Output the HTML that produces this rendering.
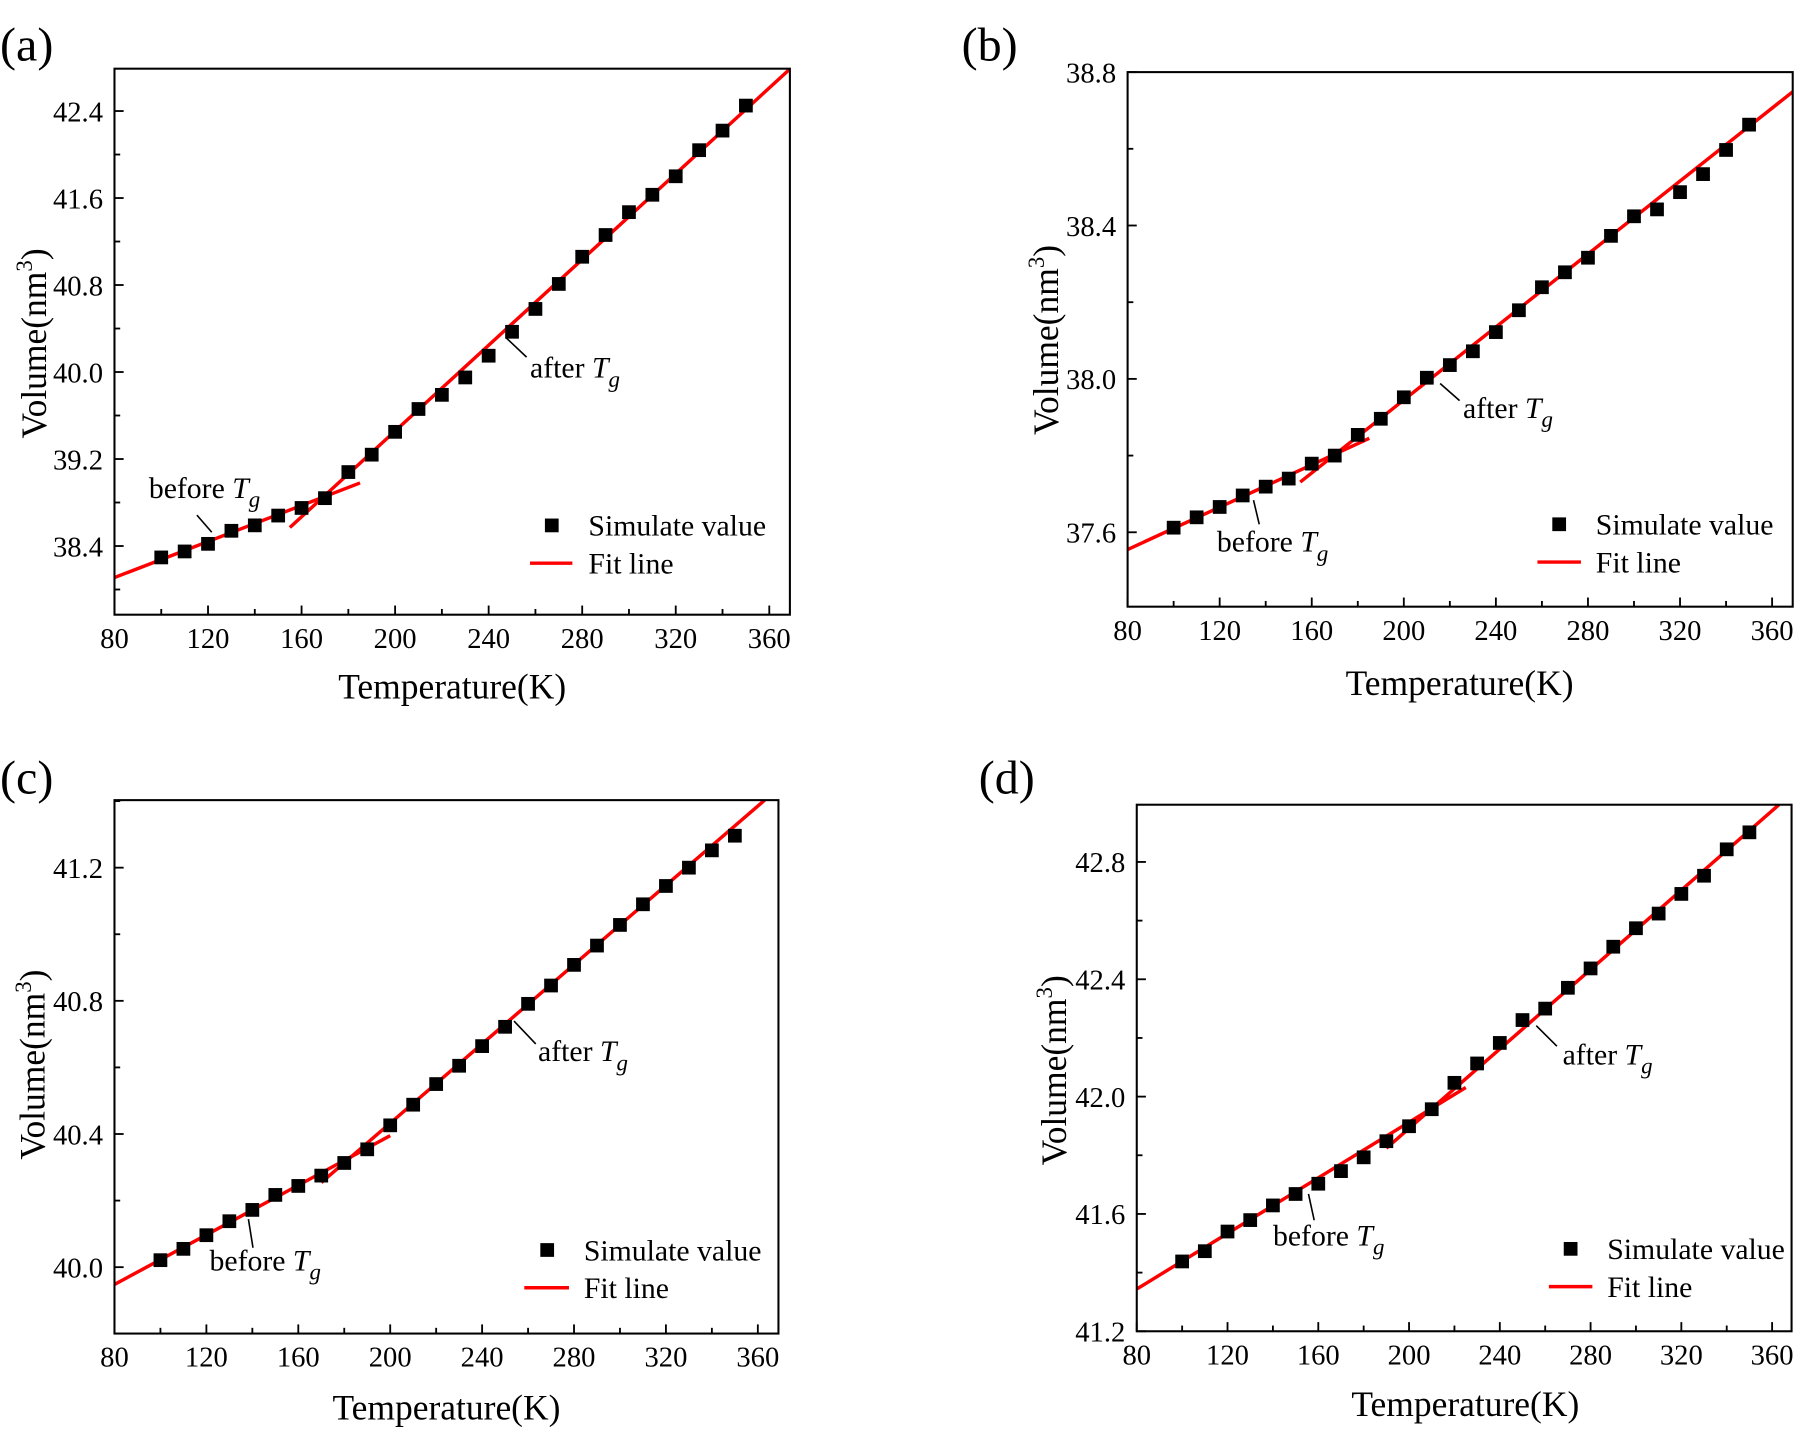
<!DOCTYPE html>
<html><head><meta charset="utf-8"><style>
html,body{margin:0;padding:0;background:#fff;}
svg{display:block;font-family:"Liberation Serif",serif;}
</style></head><body>
<svg id="fig" width="1795" height="1432" viewBox="0 0 1568 1251" preserveAspectRatio="none" xmlns="http://www.w3.org/2000/svg"></svg>
<script>
const temps = [100,110,120,130,140,150,160,170,180,190,200,210,220,230,240,250,260,270,280,290,300,310,320,330,340,350];
const valuesA = [38.295,38.35,38.42,38.54,38.59,38.68,38.75,38.84,39.08,39.24,39.45,39.66,39.79,39.95,40.15,40.37,40.58,40.81,41.06,41.26,41.47,41.63,41.80,42.04,42.22,42.45];
const valuesB = [37.612,37.639,37.666,37.696,37.719,37.740,37.779,37.800,37.854,37.896,37.952,38.003,38.036,38.072,38.122,38.179,38.239,38.278,38.316,38.373,38.424,38.442,38.487,38.534,38.597,38.663];
const valuesC = [40.021,40.055,40.096,40.138,40.172,40.217,40.244,40.275,40.313,40.354,40.426,40.488,40.550,40.605,40.664,40.722,40.791,40.846,40.908,40.966,41.028,41.090,41.145,41.2,41.252,41.296];
const valuesD = [41.438,41.473,41.540,41.579,41.629,41.668,41.703,41.746,41.793,41.848,41.899,41.957,42.047,42.113,42.183,42.261,42.300,42.371,42.437,42.511,42.574,42.624,42.691,42.753,42.843,42.901];
const fitBeforeA = [80,38.11,185,38.98];
const fitAfterA = [155,38.57,369,42.79];
const fitBeforeB = [80,37.555,185,37.845];
const fitAfterB = [155,37.731,369,38.749];
const fitBeforeC = [80,39.948,200,40.395];
const fitAfterC = [170,40.254,363,41.403];
const fitBeforeD = [80,41.344,225,42.031];
const fitAfterD = [190,41.824,363,42.995];
const xTicks = [80,120,160,200,240,280,320,360];
const yTicksA = ["38.4","39.2","40.0","40.8","41.6","42.4"];
const yTicksB = ["37.6","38.0","38.4","38.8"];
const yTicksC = ["40.0","40.4","40.8","41.2"];
const yTicksD = ["41.2","41.6","42.0","42.4","42.8"];

const NS="http://www.w3.org/2000/svg";
const svg=document.getElementById('fig');
function el(tag,attrs,parent,text){const e=document.createElementNS(NS,tag);for(const k in attrs)e.setAttribute(k,attrs[k]);if(text!==undefined)e.textContent=text;(parent||svg).appendChild(e);return e;}

const panels=[
 {id:'a',L:100,R:690,T:60,B:537,x0:100,x1:672,yA:38.4,pA:477,yB:42.4,pB:97,yt:yTicksA,minorStep:0.4,vals:valuesA,fb:fitBeforeA,fa:fitAfterA,
  lab:[0,40],ylab:[40,300],xlab:[395,610],
  bt:[130,435],bl:[172,450,185,465],at:[463,330],al:[442,295,460,312],leg:[482,459,463,500]},
 {id:'b',L:985,R:1566,T:63,B:530,x0:985,x1:1548,yA:37.6,pA:465,yB:38.8,pB:63,yt:yTicksB,minorStep:0.2,vals:valuesB,fb:fitBeforeB,fa:fitAfterB,
  lab:[840,40],ylab:[924,297],xlab:[1275,607],
  bt:[1063,482],bl:[1095,437,1100,458],at:[1278,365],al:[1258,335,1275,350],leg:[1362,458,1343,1381]},
 {id:'c',L:100,R:680,T:699,B:1165,x0:100,x1:662,yA:40.0,pA:1107,yB:41.2,pB:758,yt:yTicksC,minorStep:0.2,vals:valuesC,fb:fitBeforeC,fa:fitAfterC,
  lab:[0,680],ylab:[39,930],xlab:[390,1240],
  bt:[183,1110],bl:[217,1065,221,1090],at:[470,927],al:[449,892,468,912],leg:[478,1092,458,497]},
 {id:'d',L:993,R:1565,T:703,B:1163,x0:993,x1:1548,yA:41.2,pA:1163,yB:42.8,pB:753,yt:yTicksD,minorStep:0.2,vals:valuesD,fb:fitBeforeD,fa:fitAfterD,
  lab:[855,680],ylab:[931,935],xlab:[1280,1237],
  bt:[1112,1088],bl:[1143,1043,1148,1066],at:[1365,930],al:[1342,896,1360,914],leg:[1372,1091,1353,1391]}
];

panels.forEach(p=>{
 const g=el('g',{});
 
 
 const xs=v=>p.x0+(v-80)/280*(p.x1-p.x0);
 const ys=v=>p.pA+(v-p.yA)/(p.yB-p.yA)*(p.pB-p.pA);
 const vmin=p.yA+(p.B-p.pA)/(p.pB-p.pA)*(p.yB-p.yA);
 const vmax=p.yA+(p.T-p.pA)/(p.pB-p.pA)*(p.yB-p.yA);
 const pl=el('text',{x:p.lab[0],y:p.lab[1]+13,'font-size':42},g,'('+p.id+')');
 
 
 const cp=el('clipPath',{id:'clip'+p.id},g);
 el('rect',{x:p.L,y:p.T,width:p.R-p.L,height:p.B-p.T},cp);
 for(let t=80;t<=360;t+=20){
  const major=xTicks.includes(t);
  const tk=el('line',{x1:xs(t),x2:xs(t),y1:p.B,y2:p.B-(major?8:5),stroke:'#000','stroke-width':1.6},g);
  
  
 }
 xTicks.forEach(t=>{
  const tl=el('text',{x:xs(t),y:p.B+29,'font-size':25,'text-anchor':'middle'},g,String(t));
  
  
 });
 const startMinor=Math.ceil(vmin/p.minorStep-1e-6)*p.minorStep;
 for(let v=startMinor;v<=vmax+1e-9;v+=p.minorStep){
  const major=p.yt.some(s=>Math.abs(parseFloat(s)-v)<1e-6);
  const tk=el('line',{x1:p.L,x2:p.L+(major?8:5),y1:ys(v),y2:ys(v),stroke:'#000','stroke-width':1.6},g);
  
  
 }
 p.yt.forEach(s=>{
  const tl=el('text',{x:p.L-10,y:ys(parseFloat(s))+9,'font-size':25,'text-anchor':'end'},g,s);
  
  
 });
 const xt=el('text',{x:p.xlab[0],y:p.xlab[1],'font-size':31,'text-anchor':'middle'},g,'Temperature(K)');
 
 
 const yt=el('text',{x:0,y:0,'font-size':31,'text-anchor':'middle',transform:`translate(${p.ylab[0]},${p.ylab[1]}) rotate(-90)`},g);
 
 
 el('tspan',{},yt,'Volume(nm');
 el('tspan',{dy:-12,'font-size':20},yt,'3');
 el('tspan',{dy:12},yt,')');
 [p.fb,p.fa].forEach((f,i)=>{
  const ln=el('line',{x1:xs(f[0]),y1:ys(f[1]),x2:xs(f[2]),y2:ys(f[3]),stroke:'#ff0000','stroke-width':3,'clip-path':`url(#clip${p.id})`},g);
  
  
 });
 temps.forEach((t,i)=>{
  const r=el('rect',{x:xs(t)-6,y:ys(p.vals[i])-6,width:12,height:12,fill:'#000'},g);
  
  
 });
 const fr=el('rect',{x:p.L,y:p.T,width:p.R-p.L,height:p.B-p.T,fill:'none',stroke:'#000','stroke-width':1.8},g);
 
 
 const bt=el('text',{x:p.bt[0],y:p.bt[1],'font-size':26},g);
 
 
 el('tspan',{},bt,'before ');
 el('tspan',{'font-style':'italic'},bt,'T');
 el('tspan',{'font-style':'italic',dy:8,'font-size':20},bt,'g');
 const bl=el('line',{x1:p.bl[0],y1:p.bl[1],x2:p.bl[2],y2:p.bl[3],stroke:'#000','stroke-width':1.4},g);
 
 
 const at=el('text',{x:p.at[0],y:p.at[1],'font-size':26},g);
 
 
 el('tspan',{},at,'after ');
 el('tspan',{'font-style':'italic'},at,'T');
 el('tspan',{'font-style':'italic',dy:8,'font-size':20},at,'g');
 const al=el('line',{x1:p.al[0],y1:p.al[1],x2:p.al[2],y2:p.al[3],stroke:'#000','stroke-width':1.4},g);
 
 
 const lg=el('g',{},g);
 
 
 el('rect',{x:p.leg[0]-6,y:p.leg[1]-6,width:12,height:12,fill:'#000'},lg);
 const l1=el('text',{x:p.leg[0]+32,y:p.leg[1]+9,'font-size':26},lg,'Simulate value');
 
 
 el('line',{x1:p.leg[2],x2:p.leg[3],y1:p.leg[1]+33,y2:p.leg[1]+33,stroke:'#ff0000','stroke-width':3},lg);
 const l2=el('text',{x:p.leg[0]+32,y:p.leg[1]+42,'font-size':26},lg,'Fit line');
 
 
});
</script>
</body></html>
